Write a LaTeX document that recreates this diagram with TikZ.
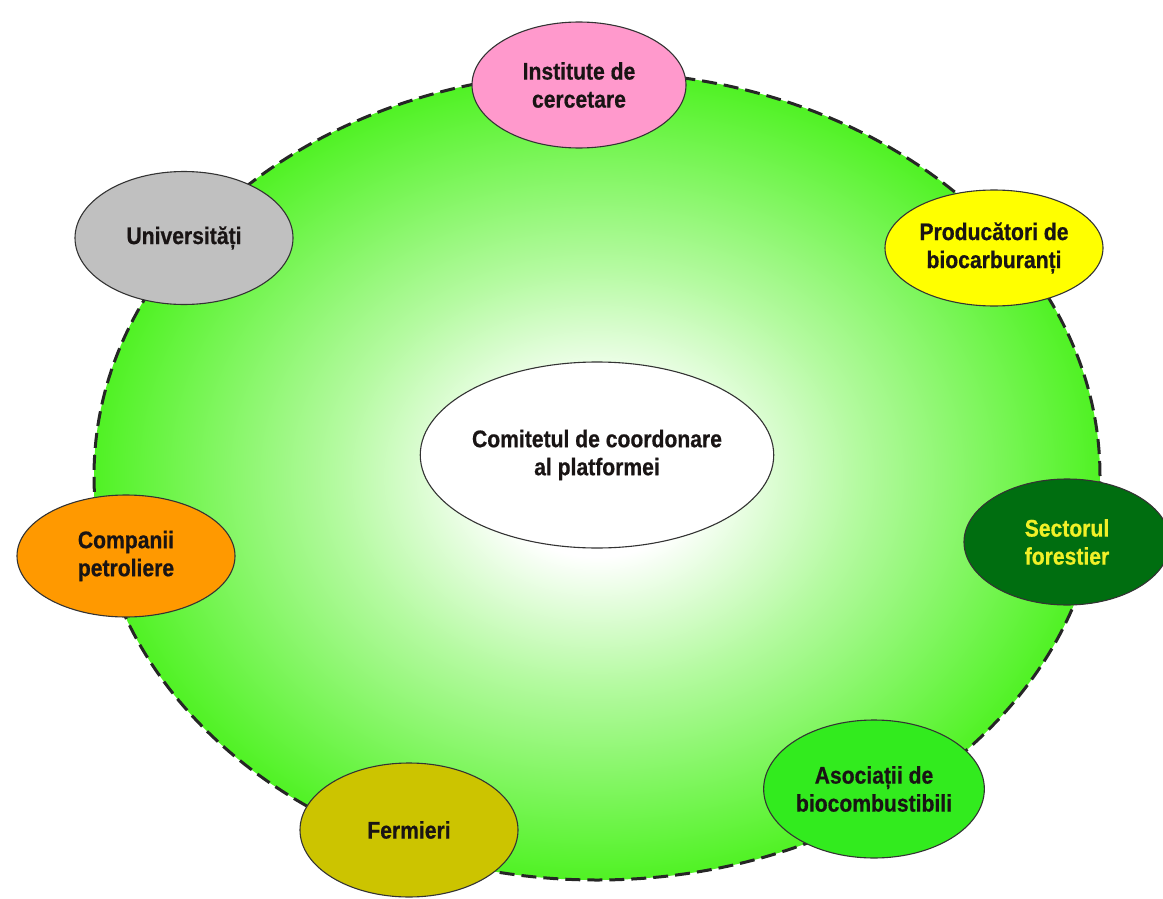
\documentclass[tikz,border=0pt]{standalone}
\usepackage{fontspec}
\setmainfont{Liberation Sans}[FakeStretch=0.88, BoldFeatures={FakeBold=0.6}]
\usetikzlibrary{shapes.geometric}
\definecolor{ringgreen}{RGB}{80,242,36}
\definecolor{ringmid}{RGB}{180,250,160}
\definecolor{pinkfill}{RGB}{255,153,204}
\definecolor{grayfill}{RGB}{192,192,192}
\definecolor{yellowfill}{RGB}{255,255,0}
\definecolor{orangefill}{RGB}{255,153,0}
\definecolor{forestfill}{RGB}{0,110,16}
\definecolor{foresttext}{RGB}{240,240,40}
\definecolor{assocfill}{RGB}{50,235,30}
\definecolor{olivefill}{RGB}{204,196,0}
\definecolor{txt}{RGB}{25,20,20}
\pgfdeclareradialshading{ringshade}{\pgfpoint{0bp}{0bp}}{color(0bp)=(white); color(5bp)=(white); color(13bp)=(ringmid); color(25bp)=(ringgreen); color(50bp)=(ringgreen)}
\tikzset{
  ring/.style={ellipse, draw=black!85, line width=3pt, dash pattern=on 15pt off 7pt, shading=ringshade, inner sep=0pt},
  member/.style={ellipse, draw=black!80, line width=1.1pt, inner sep=0pt, align=center,
    font=\fontsize{24}{28}\selectfont\bfseries, text=txt},
}
\begin{document}
\begin{tikzpicture}[x=1pt,y=-1pt]
\useasboundingbox (0,0) rectangle (1163,899);
\node[ring, minimum width=1006pt, minimum height=808pt] (ring) at (597,476) {};
\node[member, fill=white, minimum width=334pt, minimum height=186pt] (comitet) at (597,455) {Comitetul de coordonare\\al platformei};
\node[member, fill=pinkfill, minimum width=214pt, minimum height=126pt] (inst) at (579,85) {Institute de\\cercetare};
\node[member, fill=grayfill, minimum width=218pt, minimum height=133pt] (univ) at (184,238) {Universități};
\node[member, fill=yellowfill, minimum width=218pt, minimum height=116pt] (prod) at (994,248) {Producători de\\biocarburanți};
\node[member, fill=orangefill, minimum width=218pt, minimum height=122pt] (comp) at (126,556) {Companii\\petroliere};
\node[member, fill=forestfill, text=foresttext, minimum width=206pt, minimum height=126pt] (forest) at (1067,542) {Sectorul\\forestier};
\node[member, fill=assocfill, minimum width=218pt, minimum height=138pt] (assoc) at (874,789) {Asociații de\\biocombustibili};
\node[member, fill=olivefill, minimum width=218pt, minimum height=134pt] (ferm) at (409,830) {Fermieri};
\end{tikzpicture}
\end{document}
